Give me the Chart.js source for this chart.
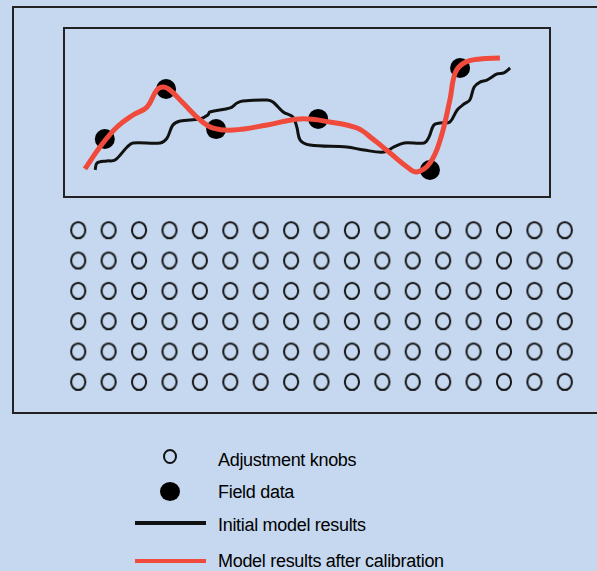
<!DOCTYPE html>
<html>
<head>
<meta charset="utf-8">
<script src="https://cdn.jsdelivr.net/npm/chart.js@4/dist/chart.umd.min.js"></script>
<style>
    html, body {
        margin: 0;
        padding: 0;
        width: 597px;
        height: 571px;
        overflow: hidden;
        background: #c5d8ef;
        font-family: "Liberation Sans", Arial, sans-serif;
    }
    .frame {
        position: absolute;
        left: 12px;
        top: 6px;
        width: 700px;
        height: 408px;
        box-sizing: border-box;
        border: 2px solid #222;
        border-right: none;
    }
    canvas { position: absolute; }
    .mark { position: absolute; box-sizing: border-box; }
    .label {
        position: absolute;
        left: 218px;
        font-size: 18px;
        letter-spacing: -0.3px;
        line-height: 20px;
        color: #000;
        white-space: nowrap;
    }
</style>
</head>
<body>
<div class="frame"></div>
<canvas id="curveChart" width="506" height="189" style="left:54px; top:18px;"></canvas>
<canvas id="knobChart" width="537" height="202" style="left:53px; top:205px;"></canvas>

<!-- legend -->
<div class="mark" style="left:163px; top:448.5px; width:14px; height:15px; border:2px solid #111; border-radius:50%;"></div>
<div class="label" style="top:449.5px;">Adjustment knobs</div>
<div class="mark" style="left:160px; top:481.5px; width:20px; height:19px; background:#000; border-radius:50%;"></div>
<div class="label" style="top:482.1px;">Field data</div>
<div class="mark" style="left:135px; top:520.5px; width:71px; height:4px; background:#111;"></div>
<div class="label" style="top:514.5px;">Initial model results</div>
<div class="mark" style="left:135px; top:558.5px; width:71px; height:4px; background:#ef4a3b;"></div>
<div class="label" style="top:550.5px;">Model results after calibration</div>

<script>
// Field observations (x along section, y value)
const fieldX = [8.4, 21.0, 31.3, 52.3, 75.3, 81.5];
const fieldY = [3.43, 6.39, 4.02, 4.62, 1.60, 7.63];

// Initial model results
const initialX = [6.4, 6.8, 8.8, 10.5, 13.0, 14.2, 19.8, 21.2, 22.4, 23.9, 28.0, 29.6, 30.0, 34.2,
    35.6, 36.8, 41.8, 43.0, 45.1, 47.1, 47.9, 48.6, 50.6, 58.2, 61.7, 65.8, 67.9, 70.0, 74.1,
    75.1, 76.1, 77.4, 79.4, 80.9, 82.3, 83.5, 84.4, 85.6, 87.0, 89.1, 90.5, 91.8];
const initialY = [1.60, 2.01, 2.13, 2.19, 2.96, 3.20, 3.20, 3.49, 4.26, 4.50, 4.62, 4.85, 5.03, 5.27,
    5.56, 5.68, 5.74, 5.62, 5.03, 4.73, 4.14, 3.37, 3.08, 2.96, 2.78, 2.66, 2.96, 3.20, 3.20,
    3.55, 4.26, 4.38, 4.44, 5.15, 5.50, 5.74, 6.51, 6.80, 6.92, 7.28, 7.34, 7.63];

// Model results after calibration
const calibratedX = [4.3, 7.4, 10.9, 14.2, 17.1, 19.1, 20.4, 21.8, 24.5, 28.0, 30.7, 34.8, 41.8,
    48.6, 54.7, 60.3, 63.8, 67.1, 70.6, 72.6, 75.3, 77.4, 79.4, 80.5, 82.3, 85.6, 89.7];
const calibratedY = [1.66, 2.96, 4.14, 4.85, 5.33, 6.33, 6.51, 6.33, 5.56, 4.56, 4.08, 3.96, 4.26,
    4.62, 4.44, 4.08, 3.37, 2.60, 1.78, 1.48, 2.01, 3.37, 5.74, 7.34, 7.93, 8.17, 8.22];

// Adjustment knob grid
const knobColumns = [1, 2, 3, 4, 5, 6, 7, 8, 9, 10, 11, 12, 13, 14, 15, 16, 17];
const knobRows = [1, 2, 3, 4, 5, 6];

const RED = '#ef4a3b';
const INK = '#111';

function toPoints(xs, ys) {
    return xs.map((x, i) => ({ x: x, y: ys[i] }));
}

// draws the frame round the chart area
const boxPlugin = {
    id: 'box',
    beforeDatasetsDraw(chart) {
        const a = chart.chartArea;
        const ctx = chart.ctx;
        ctx.save();
        ctx.strokeStyle = '#222';
        ctx.lineWidth = 2;
        ctx.strokeRect(a.left, a.top, a.right - a.left, a.bottom - a.top);
        ctx.restore();
    }
};

new Chart(document.getElementById('curveChart'), {
    type: 'scatter',
    data: {
        datasets: [
            {
                label: 'Model results after calibration',
                data: toPoints(calibratedX, calibratedY),
                showLine: true,
                borderColor: RED,
                borderWidth: 5,
                pointRadius: 0,
                tension: 0.4,
                order: 1
            },
            {
                label: 'Field data',
                data: toPoints(fieldX, fieldY),
                backgroundColor: '#000',
                borderWidth: 0,
                pointRadius: 10,
                order: 2
            },
            {
                label: 'Initial model results',
                data: toPoints(initialX, initialY),
                showLine: true,
                borderColor: INK,
                borderWidth: 3,
                pointRadius: 0,
                tension: 0.35,
                order: 3
            }
        ]
    },
    options: {
        responsive: false,
        animation: false,
        devicePixelRatio: 1,
        layout: { padding: 10 },
        scales: {
            x: { type: 'linear', min: 0, max: 100, display: false },
            y: { type: 'linear', min: 0, max: 10, display: false }
        },
        plugins: { legend: { display: false }, tooltip: { enabled: false } }
    },
    plugins: [boxPlugin]
});

// slightly tall open ring for the knobs
const ring = document.createElement('canvas');
ring.width = 22;
ring.height = 24;
const rctx = ring.getContext('2d');
rctx.strokeStyle = '#151515';
rctx.lineWidth = 2;
rctx.beginPath();
rctx.ellipse(11, 12, 7.1, 8.1, 0, 0, Math.PI * 2);
rctx.stroke();

const knobs = [];
knobRows.forEach(r => {
    knobColumns.forEach(c => knobs.push({ x: c, y: r }));
});

new Chart(document.getElementById('knobChart'), {
    type: 'scatter',
    data: {
        datasets: [{
            label: 'Adjustment knobs',
            data: knobs,
            pointStyle: ring,
            pointRadius: 9
        }]
    },
    options: {
        responsive: false,
        animation: false,
        devicePixelRatio: 1,
        layout: { padding: 10 },
        scales: {
            x: { type: 'linear', min: 0.5, max: 17.5, display: false },
            y: { type: 'linear', min: 0.5, max: 6.5, reverse: true, display: false }
        },
        plugins: { legend: { display: false }, tooltip: { enabled: false } }
    }
});
</script>
</body>
</html>
